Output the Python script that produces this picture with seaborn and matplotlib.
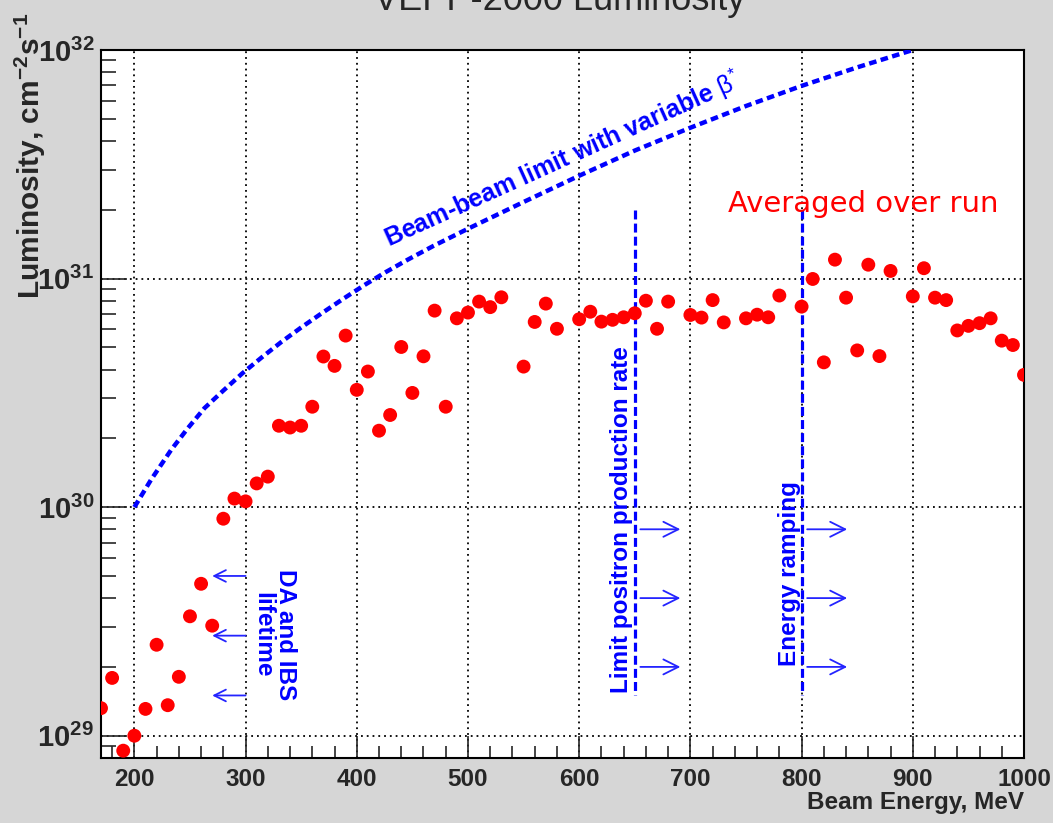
import numpy as np
import matplotlib
matplotlib.use("Agg")
import matplotlib.pyplot as plt
from matplotlib.ticker import FixedLocator, MultipleLocator, LogLocator, FuncFormatter, NullFormatter
import seaborn as sns

# Luminosity averaged over run, in units of 1e30 cm^-2 s^-1
energy = [170, 180, 190, 200, 210, 220, 230, 240, 250, 260, 270, 280, 290, 300,
          310, 320, 330, 340, 350, 360, 370, 380, 390, 400, 410, 420, 430, 440,
          450, 460, 470, 480, 490, 500, 510, 520, 530, 550, 560, 570, 580, 600,
          610, 620, 630, 640, 650, 660, 670, 680, 700, 710, 720, 730, 750, 760,
          770, 780, 800, 810, 820, 830, 840, 850, 860, 870, 880, 900, 910, 920,
          930, 940, 950, 960, 970, 980, 990, 1000]
lumi_e30 = [0.132, 0.179, 0.086, 0.100, 0.131, 0.25, 0.136, 0.181, 0.333, 0.462,
            0.303, 0.89, 1.09, 1.06, 1.27, 1.36, 2.27, 2.23, 2.27, 2.75, 4.56,
            4.15, 5.63, 3.26, 3.92, 2.16, 2.53, 5.02, 3.16, 4.57, 7.24, 2.75,
            6.7, 7.1, 7.93, 7.5, 8.28, 4.12, 6.46, 7.77, 6.03, 6.64, 7.16, 6.48,
            6.6, 6.77, 7.05, 8.0, 6.03, 7.93, 6.93, 6.75, 8.05, 6.43, 6.7, 6.95,
            6.77, 8.43, 7.54, 9.96, 4.3, 12.1, 8.25, 4.85, 11.5, 4.58, 10.8, 8.36,
            11.1, 8.25, 8.05, 5.93, 6.21, 6.38, 6.7, 5.35, 5.12, 3.79]

# Beam-beam limit with variable beta*, in units of 1e30 cm^-2 s^-1
bb_energy = [200, 215, 233, 248, 263, 280, 297, 315, 332, 350, 369, 388, 407,
             426, 446, 469, 500, 550, 600, 650, 700, 750, 800, 850, 900]
bb_lumi_e30 = [1.0, 1.318, 1.778, 2.213, 2.71, 3.236, 3.846, 4.539, 5.272,
               6.109, 7.079, 8.166, 9.376, 10.67, 12.11, 13.9, 16.52, 21.63,
               28.18, 36.31, 45.71, 56.89, 69.66, 83.95, 100.0]

# Limiting regimes (vertical markers)
limit_energies = [650, 800]
limit_span_e30 = [20.0, 0.151]

x_major = [200, 300, 400, 500, 600, 700, 800, 900, 1000]
x_labels = ["200", "300", "400", "500", "600", "700", "800", "900", "1000"]

sns.set_style("ticks")
plt.rcParams["font.family"] = ["Liberation Sans", "DejaVu Sans"]
plt.rcParams["mathtext.fontset"] = "custom"
plt.rcParams["mathtext.rm"] = "Liberation Sans"
plt.rcParams["mathtext.bf"] = "Liberation Sans:bold"
plt.rcParams["mathtext.it"] = "Liberation Sans:italic"

W, H = 1053, 823
fig = plt.figure(figsize=(W / 100, H / 100), dpi=100, facecolor="#d6d6d6")
ax = fig.add_axes([101 / W, 1 - 758 / H, (1024 - 101) / W, (758 - 50) / H])
ax.set_facecolor("white")

E30 = 1e30
BLUE = "#0000ff"

# beam-beam limit curve
sns.lineplot(x=bb_energy, y=np.array(bb_lumi_e30) * E30, estimator=None,
             sort=False, color=BLUE, linewidth=3.2, ax=ax, zorder=3)
ax.lines[-1].set_linestyle((0, (1.7, 1.0)))
ax.lines[-1].set_dash_capstyle("butt")

# vertical dashed markers
for e in limit_energies:
    sns.lineplot(x=[e, e], y=np.array(limit_span_e30) * E30, estimator=None,
                 sort=False, color=BLUE, linewidth=2.3, ax=ax, zorder=3)
    ax.lines[-1].set_linestyle((0, (2.8, 1.3)))

# measured points
sns.scatterplot(x=energy, y=np.array(lumi_e30) * E30, color="#ff0000", s=100,
                edgecolor="none", linewidth=0, ax=ax, zorder=4)

ax.set_yscale("log")
ax.set_xlim(170, 1000)
ax.set_ylim(10 ** 28.9025, 1e32)

# ticks
ax.xaxis.set_major_locator(FixedLocator(x_major))
ax.set_xticks(x_major)
ax.set_xticklabels(x_labels)
ax.xaxis.set_minor_locator(MultipleLocator(20))
ax.yaxis.set_major_locator(LogLocator(base=10, numticks=10))
ax.yaxis.set_minor_locator(LogLocator(base=10, subs=np.arange(2, 10), numticks=20))
ax.yaxis.set_major_formatter(
    FuncFormatter(lambda v, p: r"$\mathbf{10^{%d}}$" % int(round(np.log10(v)))))
ax.yaxis.set_minor_formatter(NullFormatter())

ax.tick_params(axis="x", which="major", direction="in", length=16, width=1.2,
               pad=7, labelsize=17.5)
ax.tick_params(axis="x", which="minor", direction="in", length=8.5, width=1.2)
ax.tick_params(axis="y", which="major", direction="in", length=19, width=1.2,
               pad=5, labelsize=21)
ax.tick_params(axis="y", which="minor", direction="in", length=11, width=1.2)
for lab in ax.get_xticklabels():
    lab.set_fontweight("bold")

for s in ax.spines.values():
    s.set_linewidth(1.5)
    s.set_color("black")

ax.grid(True, which="major", color="black", linestyle=(0, (1, 2.2)),
        linewidth=1.3)
ax.set_axisbelow(True)

# axis titles
ax.set_xlabel("")
ax.set_ylabel("")
fig.text(1024 / W, 1 - 803 / H, "Beam Energy, MeV", ha="right", va="center",
         fontsize=17.5, fontweight="bold")
fig.text(30 / W, 1 - 299 / H, r"Luminosity, cm$^{\mathbf{-2}}$s$^{\mathbf{-1}}$",
         rotation=90, ha="left", va="center", rotation_mode="anchor",
         fontsize=21.5, fontweight="bold")
fig.text(560 / W, 1 - 10 / H, "VEPP-2000 Luminosity", ha="center",
         va="baseline", fontsize=26)

# annotations
ax.text(429, 1.36e31, r"Beam-beam limit with variable $\mathrm{\beta}^{*}$",
        rotation=24.4, rotation_mode="anchor", ha="left", va="baseline",
        color=BLUE, fontsize=18, fontweight="bold", zorder=5)
ax.text(855, 1.95e31, "Averaged over run", ha="center", va="baseline",
        color="#ff0000", fontsize=21, family="DejaVu Sans")
ax.text(325.7, 2.77e29, "DA and IBS\nlifetime", rotation=-90, ha="center",
        va="center", multialignment="center", linespacing=1.0,
        color=BLUE, fontsize=17.5, fontweight="bold")
ax.text(638, 8.8e29, "Limit positron production rate", rotation=90,
        ha="center", va="center", color=BLUE, fontsize=17.5, fontweight="bold")
ax.text(789, 5.1e29, "Energy ramping", rotation=90, ha="center", va="center",
        color=BLUE, fontsize=17.5, fontweight="bold")

ARROW_BLUE = "#2424ff"
left_kw = dict(arrowstyle="->,head_length=0.6,head_width=0.3", color=ARROW_BLUE,
               lw=1.3, shrinkA=0, shrinkB=0, mutation_scale=14)
right_kw = dict(arrowstyle="->,head_length=0.6,head_width=0.3", color=ARROW_BLUE,
                lw=1.3, shrinkA=0, shrinkB=0, mutation_scale=18)
for yv in [5.0e29, 2.74e29, 1.5e29]:
    ax.annotate("", xy=(270, yv), xytext=(300, yv), arrowprops=left_kw)
for yv in [8.0e29, 4.0e29, 2.0e29]:
    ax.annotate("", xy=(691, yv), xytext=(655, yv), arrowprops=right_kw)
    ax.annotate("", xy=(841, yv), xytext=(805, yv), arrowprops=right_kw)

fig.savefig("out.png", dpi=100, facecolor=fig.get_facecolor())
